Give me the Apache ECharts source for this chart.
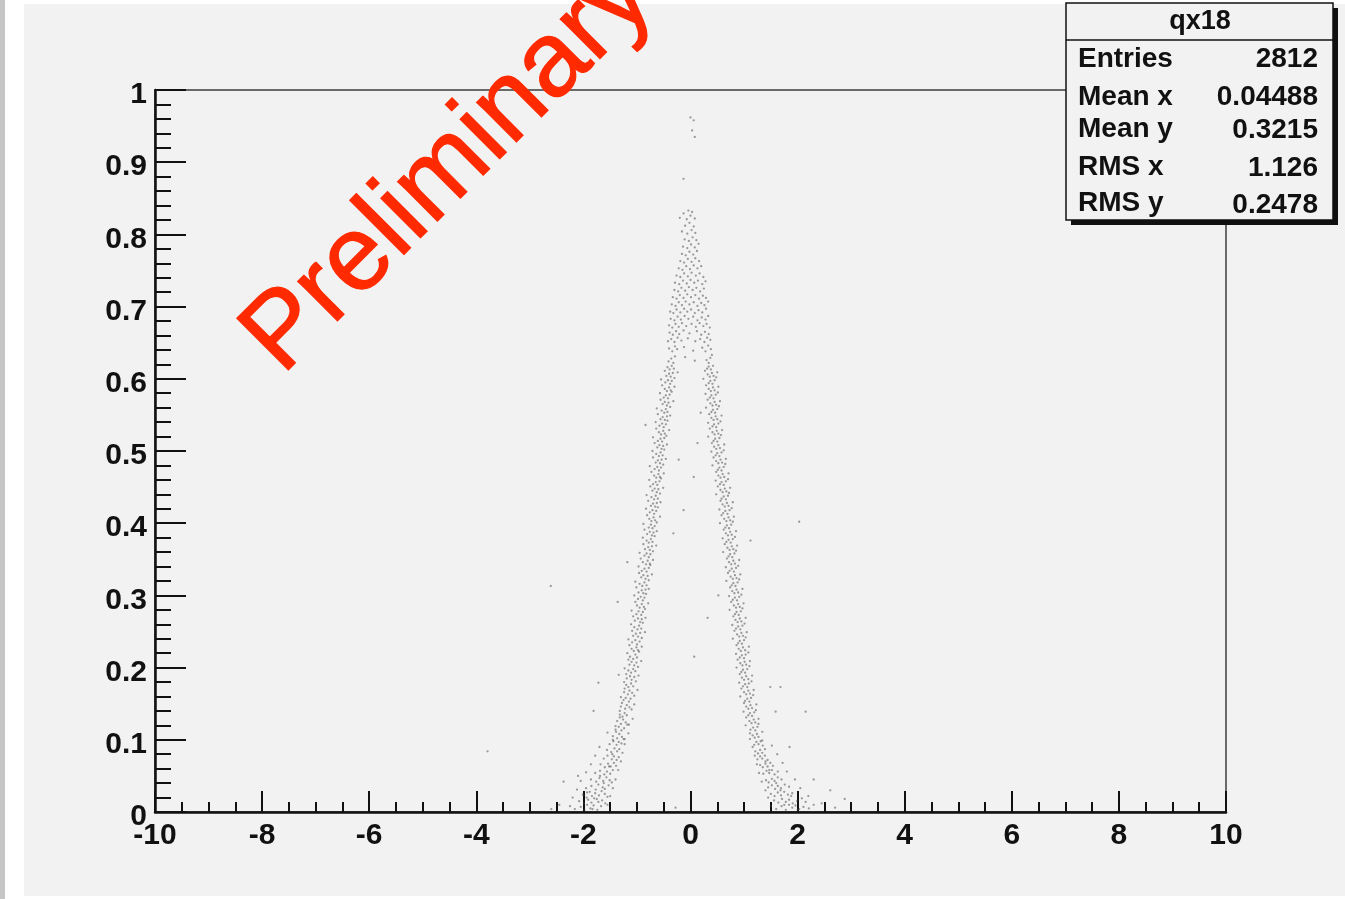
<!DOCTYPE html>
<html><head><meta charset="utf-8">
<script src="https://cdn.jsdelivr.net/npm/echarts@6/dist/echarts.min.js"></script>
<style>html,body{margin:0;padding:0;background:#fff;}#c{width:1345px;height:899px;}</style>
</head><body><div id="c"></div>
<script>
const xTicks = [-10,-8,-6,-4,-2,0,2,4,6,8,10];
const statTitle = 'qx18';
const statLabels = ['Entries','Mean x','Mean y','RMS x','RMS y'];
const statValues = ['2812','0.04488','0.3215','1.126','0.2478'];
const watermark = 'Preliminary';

const leftBranch = [
[-2.16,0.004],[-2.05,0.007],[-1.98,0.003],[-1.93,0.010],[-1.87,0.005],[-1.81,0.009],[-1.74,0.003],[-1.67,0.008],
[-2.08,0.015],[-1.99,0.012],[-1.91,0.017],[-1.85,0.013],[-1.80,0.019],[-1.72,0.014],[-1.65,0.016],[-1.59,0.012],
[-2.01,0.024],[-1.93,0.027],[-1.84,0.022],[-1.78,0.026],[-1.71,0.023],[-1.66,0.029],[-1.60,0.025],[-1.55,0.021],
[-1.95,0.033],[-1.85,0.036],[-1.77,0.031],[-1.72,0.038],[-1.64,0.034],[-1.60,0.032],[-1.53,0.037],
[-1.86,0.045],[-1.76,0.042],[-1.70,0.047],[-1.63,0.043],[-1.57,0.048],[-1.51,0.044],[-1.47,0.041],
[-1.78,0.054],[-1.69,0.057],[-1.61,0.052],[-1.56,0.056],[-1.50,0.053],[-1.45,0.058],
[-1.68,0.066],[-1.60,0.062],[-1.54,0.067],[-1.49,0.063],[-1.43,0.068],[-1.39,0.064],
[-1.62,0.074],[-1.55,0.078],[-1.47,0.073],[-1.43,0.077],[-1.38,0.072],[-1.34,0.076],
[-1.56,0.086],[-1.48,0.083],[-1.42,0.088],[-1.37,0.084],[-1.33,0.087],
[-1.51,0.094],[-1.44,0.098],[-1.38,0.093],[-1.34,0.097],[-1.29,0.095],
[-1.45,0.105],[-1.37,0.102],[-1.33,0.108],[-1.28,0.104],[-1.25,0.101],
[-1.40,0.114],[-1.34,0.118],[-1.29,0.113],[-1.24,0.116],
[-1.37,0.126],[-1.30,0.122],[-1.26,0.128],[-1.21,0.124],[-1.18,0.121],
[-1.32,0.135],[-1.27,0.132],[-1.23,0.137],[-1.19,0.134],
[-1.30,0.146],[-1.22,0.143],[-1.19,0.148],[-1.14,0.145],
[-1.25,0.155],[-1.21,0.158],[-1.15,0.153],[-1.12,0.157],
[-1.24,0.166],[-1.17,0.163],[-1.14,0.168],[-1.09,0.165],
[-1.20,0.176],[-1.16,0.173],[-1.11,0.178],[-1.07,0.174],
[-1.19,0.185],[-1.13,0.188],[-1.10,0.183],[-1.05,0.187],
[-1.16,0.196],[-1.11,0.193],[-1.07,0.198],[-1.03,0.195],
[-1.14,0.204],[-1.10,0.208],[-1.05,0.203],[-1.01,0.207],
[-1.13,0.215],[-1.07,0.212],[-1.03,0.218],[-1.00,0.214],
[-1.10,0.226],[-1.06,0.223],[-1.01,0.228],[-0.98,0.224],
[-1.09,0.235],[-1.03,0.238],[-1.00,0.232],[-0.95,0.236],
[-1.07,0.244],[-1.02,0.247],[-0.98,0.243],[-0.94,0.248],
[-1.05,0.256],[-0.99,0.253],[-0.96,0.258],[-0.92,0.254],
[-1.04,0.265],[-0.98,0.268],[-0.94,0.263],[-0.91,0.267],
[-1.01,0.274],[-0.97,0.278],[-0.92,0.273],[-0.89,0.277],
[-1.00,0.286],[-0.95,0.283],[-0.91,0.288],[-0.87,0.284],
[-0.98,0.295],[-0.93,0.298],[-0.89,0.293],[-0.86,0.297],
[-0.97,0.304],[-0.91,0.307],[-0.88,0.303],[-0.84,0.308],
[-0.95,0.316],[-0.90,0.313],[-0.86,0.318],[-0.82,0.314],
[-0.92,0.325],[-0.88,0.328],[-0.84,0.323],[-0.80,0.327],
[-0.91,0.334],[-0.86,0.337],[-0.82,0.333],[-0.78,0.338],
[-0.89,0.346],[-0.83,0.343],[-0.80,0.348],[-0.76,0.344],
[-0.86,0.355],[-0.82,0.358],[-0.78,0.353],[-0.75,0.357],
[-0.85,0.364],[-0.79,0.367],[-0.76,0.363],[-0.72,0.368],
[-0.82,0.376],[-0.78,0.373],[-0.74,0.378],[-0.71,0.374],
[-0.81,0.385],[-0.76,0.388],[-0.72,0.383],[-0.69,0.387],
[-0.78,0.394],[-0.74,0.398],[-0.71,0.393],[-0.67,0.396],
[-0.77,0.406],[-0.73,0.403],[-0.69,0.408],[-0.66,0.404],
[-0.76,0.415],[-0.71,0.418],[-0.68,0.413],[-0.64,0.417],
[-0.74,0.424],[-0.70,0.427],[-0.66,0.423],[-0.63,0.428],
[-0.73,0.436],[-0.68,0.433],[-0.65,0.438],[-0.61,0.434],
[-0.71,0.445],[-0.67,0.448],[-0.63,0.443],[-0.60,0.447],
[-0.70,0.454],[-0.65,0.457],[-0.62,0.453],[-0.58,0.458],
[-0.68,0.466],[-0.64,0.463],[-0.60,0.468],[-0.57,0.464],
[-0.67,0.475],[-0.62,0.478],[-0.59,0.473],[-0.55,0.477],
[-0.65,0.484],[-0.61,0.487],[-0.57,0.483],[-0.54,0.488],
[-0.64,0.496],[-0.59,0.493],[-0.56,0.498],[-0.52,0.494],
[-0.62,0.505],[-0.58,0.508],[-0.54,0.503],[-0.51,0.507],
[-0.61,0.514],[-0.56,0.517],[-0.53,0.513],[-0.49,0.518],
[-0.59,0.526],[-0.55,0.523],[-0.51,0.528],[-0.48,0.524],
[-0.58,0.535],[-0.53,0.538],[-0.50,0.533],[-0.46,0.537],
[-0.56,0.544],[-0.52,0.547],[-0.48,0.543],[-0.44,0.548],
[-0.54,0.556],[-0.49,0.553],[-0.46,0.558],[-0.43,0.554],
[-0.52,0.565],[-0.48,0.568],[-0.44,0.563],[-0.41,0.567],
[-0.50,0.574],[-0.46,0.577],[-0.42,0.573],[-0.39,0.578],
[-0.48,0.586],[-0.44,0.583],[-0.40,0.588],[-0.37,0.584],
[-0.47,0.595],[-0.42,0.598],[-0.38,0.593],[-0.35,0.597],
[-0.45,0.604],[-0.40,0.607],[-0.37,0.603],[-0.33,0.608],
[-0.43,0.616],[-0.39,0.613],[-0.35,0.618],[-0.31,0.614]
];

const leftOuter = [
[-1.45,0.100],[-1.23,0.101],[-1.39,0.111],[-1.16,0.109],[-1.40,0.119],[-1.15,0.121],[-1.32,0.131],[-1.08,0.129],
[-1.32,0.140],[-1.10,0.142],[-1.28,0.151],[-1.05,0.149],[-1.30,0.159],[-1.05,0.161],[-1.23,0.171],[-0.99,0.169],
[-1.24,0.180],[-1.02,0.181],[-1.20,0.191],[-0.97,0.189],[-1.23,0.199],[-0.98,0.201],[-1.16,0.211],[-0.92,0.209],
[-1.18,0.220],[-0.96,0.222],[-1.14,0.231],[-0.91,0.229],[-1.16,0.239],[-0.91,0.241],[-1.09,0.251],[-0.85,0.249],
[-1.11,0.260],[-0.89,0.262],[-1.07,0.271],[-0.84,0.269],[-1.10,0.279],[-0.85,0.281],[-1.03,0.291],[-0.79,0.289],
[-1.05,0.300],[-0.83,0.302],[-1.01,0.311],[-0.78,0.309],[-1.03,0.319],[-0.78,0.321],[-0.96,0.331],[-0.72,0.329],
[-0.97,0.340],[-0.75,0.342],[-0.93,0.351],[-0.70,0.349],[-0.95,0.359],[-0.70,0.361],[-0.88,0.371],[-0.64,0.369],
[-0.89,0.380],[-0.67,0.382],[-0.86,0.391],[-0.63,0.389],[-0.88,0.399],[-0.63,0.401],[-0.81,0.411],[-0.57,0.409],
[-0.83,0.420],[-0.61,0.422],[-0.79,0.431],[-0.56,0.429],[-0.82,0.439],[-0.57,0.441],[-0.75,0.451],[-0.51,0.449],
[-0.77,0.460],[-0.55,0.462],[-0.73,0.471],[-0.50,0.469],[-0.76,0.479],[-0.51,0.481],[-0.70,0.491],[-0.46,0.489],
[-0.71,0.500],[-0.49,0.502],[-0.67,0.511],[-0.44,0.509],[-0.70,0.519],[-0.45,0.521],[-0.64,0.531],[-0.40,0.529],
[-0.65,0.540],[-0.43,0.542],[-0.61,0.551],[-0.38,0.549],[-0.63,0.559],[-0.38,0.561],[-0.56,0.571],[-0.32,0.569],
[-0.57,0.580],[-0.35,0.582],[-0.53,0.591],[-0.30,0.589],[-0.55,0.599],[-0.30,0.601],[-0.48,0.611],[-0.24,0.609],
[-2.25,0.008],[-2.20,0.020],[-2.12,0.031],[-2.05,0.043],[-1.95,0.055],[-1.86,0.066],[-1.78,0.078],[-1.70,0.090],
[-1.55,0.010],[-1.50,0.022],[-1.45,0.033],[-1.40,0.045],[-1.35,0.058],[-1.30,0.070],[-1.27,0.082],[-1.23,0.094],
[-1.62,0.040],[-1.75,0.018],[-1.88,0.028],[-1.52,0.063],[-1.46,0.080],[-1.69,0.050],[-1.83,0.004],[-1.94,0.020]
];

const rightBranch = [
[1.60,0.004],[1.70,0.008],[1.78,0.003],[1.84,0.010],[1.90,0.006],[1.96,0.009],[2.03,0.004],[2.11,0.007],[2.21,0.005],
[1.56,0.016],[1.64,0.013],[1.71,0.018],[1.78,0.014],[1.84,0.017],[1.91,0.012],[1.99,0.015],[2.08,0.019],
[1.50,0.025],[1.57,0.022],[1.63,0.027],[1.69,0.023],[1.75,0.028],[1.82,0.024],[1.90,0.026],
[1.45,0.034],[1.52,0.037],[1.58,0.032],[1.63,0.036],[1.69,0.033],[1.76,0.038],[1.84,0.035],
[1.41,0.044],[1.46,0.041],[1.52,0.046],[1.57,0.043],[1.63,0.048],[1.70,0.045],
[1.36,0.053],[1.42,0.057],[1.47,0.054],[1.52,0.058],[1.57,0.052],[1.63,0.056],
[1.30,0.065],[1.35,0.062],[1.40,0.067],[1.44,0.063],[1.49,0.068],[1.54,0.064],
[1.25,0.073],[1.30,0.077],[1.34,0.074],[1.39,0.078],[1.44,0.072],
[1.21,0.084],[1.26,0.081],[1.30,0.086],[1.34,0.082],[1.39,0.087],
[1.19,0.093],[1.23,0.097],[1.27,0.094],[1.31,0.098],[1.35,0.092],
[1.16,0.106],[1.20,0.103],[1.24,0.108],[1.27,0.104],
[1.12,0.114],[1.17,0.117],[1.21,0.113],[1.25,0.118],
[1.10,0.126],[1.14,0.123],[1.18,0.128],[1.21,0.124],
[1.08,0.134],[1.11,0.137],[1.15,0.133],[1.19,0.138],
[1.04,0.146],[1.08,0.143],[1.12,0.148],[1.15,0.144],
[1.02,0.154],[1.06,0.157],[1.10,0.153],[1.13,0.158],
[1.00,0.166],[1.04,0.163],[1.08,0.168],[1.11,0.164],
[0.98,0.174],[1.02,0.177],[1.06,0.173],[1.09,0.178],
[0.96,0.186],[1.00,0.183],[1.04,0.188],[1.08,0.184],
[0.95,0.194],[0.98,0.197],[1.02,0.193],[1.06,0.198],
[0.93,0.206],[0.97,0.203],[1.01,0.208],[1.04,0.204],
[0.92,0.214],[0.96,0.217],[1.00,0.213],[1.03,0.218],
[0.90,0.226],[0.94,0.223],[0.98,0.228],[1.02,0.224],
[0.89,0.234],[0.92,0.237],[0.96,0.233],[1.00,0.238],
[0.87,0.246],[0.91,0.243],[0.95,0.248],[0.98,0.244],
[0.85,0.254],[0.89,0.257],[0.93,0.253],[0.97,0.258],
[0.84,0.266],[0.88,0.263],[0.92,0.268],[0.95,0.264],
[0.83,0.274],[0.86,0.277],[0.90,0.273],[0.94,0.278],
[0.81,0.286],[0.85,0.283],[0.89,0.288],[0.92,0.284],
[0.79,0.294],[0.83,0.297],[0.87,0.293],[0.91,0.298],
[0.78,0.306],[0.82,0.303],[0.86,0.308],[0.89,0.304],
[0.77,0.314],[0.80,0.317],[0.84,0.313],[0.88,0.318],
[0.75,0.326],[0.79,0.323],[0.83,0.328],[0.86,0.324],
[0.73,0.334],[0.77,0.337],[0.81,0.333],[0.85,0.338],
[0.72,0.346],[0.76,0.343],[0.80,0.348],[0.83,0.344],
[0.71,0.354],[0.74,0.357],[0.78,0.353],[0.82,0.358],
[0.69,0.366],[0.73,0.363],[0.77,0.368],[0.80,0.364],
[0.67,0.374],[0.71,0.377],[0.75,0.373],[0.79,0.378],
[0.66,0.386],[0.70,0.383],[0.74,0.388],[0.77,0.384],
[0.65,0.394],[0.68,0.397],[0.72,0.393],[0.76,0.398],
[0.63,0.406],[0.67,0.403],[0.71,0.408],[0.74,0.404],
[0.61,0.414],[0.65,0.417],[0.69,0.413],[0.73,0.418],
[0.60,0.426],[0.64,0.423],[0.68,0.428],[0.71,0.424],
[0.58,0.434],[0.62,0.437],[0.66,0.433],[0.70,0.438],
[0.56,0.446],[0.60,0.443],[0.64,0.448],[0.67,0.444],
[0.55,0.454],[0.58,0.457],[0.62,0.453],[0.66,0.458],
[0.52,0.466],[0.56,0.463],[0.60,0.468],[0.63,0.464],
[0.51,0.474],[0.54,0.477],[0.58,0.473],[0.62,0.478],
[0.48,0.486],[0.52,0.483],[0.56,0.488],[0.59,0.484],
[0.47,0.494],[0.50,0.497],[0.54,0.493],[0.58,0.498],
[0.44,0.506],[0.48,0.503],[0.52,0.508],[0.55,0.504],
[0.43,0.514],[0.46,0.517],[0.50,0.513],[0.54,0.518],
[0.41,0.526],[0.45,0.523],[0.49,0.528],[0.52,0.524],
[0.41,0.534],[0.44,0.537],[0.48,0.533],[0.52,0.538],
[0.39,0.546],[0.43,0.543],[0.47,0.548],[0.50,0.544],
[0.39,0.554],[0.42,0.557],[0.46,0.553],[0.50,0.558],
[0.37,0.566],[0.41,0.563],[0.45,0.568],[0.48,0.564],
[0.36,0.574],[0.39,0.577],[0.43,0.573],[0.47,0.578],
[0.34,0.586],[0.38,0.583],[0.42,0.588],[0.45,0.584],
[0.34,0.594],[0.37,0.597],[0.41,0.593],[0.45,0.598],
[0.32,0.606],[0.36,0.603],[0.40,0.608],[0.43,0.604],
[0.31,0.614],[0.34,0.617],[0.38,0.613],[0.42,0.618]
];

const rightOuter = [
[1.11,0.101],[1.34,0.099],[1.11,0.109],[1.34,0.111],[1.03,0.120],[1.27,0.122],[1.04,0.131],[1.27,0.129],
[0.99,0.139],[1.22,0.141],[1.00,0.151],[1.23,0.149],[0.93,0.160],[1.17,0.162],[0.95,0.171],[1.18,0.169],
[0.91,0.179],[1.14,0.181],[0.92,0.191],[1.15,0.189],[0.86,0.200],[1.10,0.202],[0.88,0.211],[1.11,0.209],
[0.85,0.219],[1.08,0.221],[0.86,0.231],[1.09,0.229],[0.79,0.240],[1.03,0.242],[0.82,0.251],[1.05,0.249],
[0.78,0.259],[1.01,0.261],[0.80,0.271],[1.03,0.269],[0.73,0.280],[0.97,0.282],[0.76,0.291],[0.99,0.289],
[0.72,0.299],[0.95,0.301],[0.74,0.311],[0.97,0.309],[0.67,0.320],[0.91,0.322],[0.70,0.331],[0.93,0.329],
[0.66,0.339],[0.89,0.341],[0.68,0.351],[0.91,0.349],[0.61,0.360],[0.85,0.362],[0.64,0.371],[0.87,0.369],
[0.60,0.379],[0.83,0.381],[0.62,0.391],[0.85,0.389],[0.55,0.400],[0.79,0.402],[0.58,0.411],[0.81,0.409],
[0.54,0.419],[0.77,0.421],[0.56,0.431],[0.79,0.429],[0.48,0.440],[0.72,0.442],[0.51,0.451],[0.74,0.449],
[0.47,0.459],[0.70,0.461],[0.48,0.471],[0.71,0.469],[0.41,0.480],[0.65,0.482],[0.43,0.491],[0.66,0.489],
[0.39,0.499],[0.62,0.501],[0.40,0.511],[0.63,0.509],[0.33,0.520],[0.57,0.522],[0.36,0.531],[0.59,0.529],
[0.33,0.539],[0.56,0.541],[0.35,0.551],[0.58,0.549],[0.29,0.560],[0.53,0.562],[0.32,0.571],[0.55,0.569],
[0.28,0.579],[0.51,0.581],[0.29,0.591],[0.52,0.589],[0.24,0.600],[0.48,0.602],[0.27,0.611],[0.50,0.609],
[1.50,0.008],[1.45,0.020],[1.40,0.030],[1.33,0.042],[1.28,0.054],[1.24,0.066],[1.20,0.078],[1.16,0.090],
[2.30,0.010],[2.20,0.022],[2.05,0.033],[1.95,0.045],[1.80,0.056],[1.72,0.068],[1.62,0.080],[1.52,0.092],
[1.75,0.010],[1.88,0.022],[1.60,0.040],[1.68,0.030],[1.40,0.070],[1.47,0.058],[2.00,0.003],[2.15,0.014]
];

const peakPoints = [
[-0.41,0.624],[-0.36,0.628],[-0.32,0.622],[-0.29,0.631],[-0.10,0.630],[0.08,0.625],[0.30,0.626],[0.34,0.622],[0.37,0.629],[0.40,0.633],
[-0.40,0.642],[-0.34,0.638],[-0.29,0.645],[-0.25,0.641],[-0.12,0.644],[0.05,0.639],[0.22,0.643],[0.28,0.638],[0.33,0.646],[0.38,0.641],
[-0.42,0.652],[-0.36,0.655],[-0.30,0.651],[-0.24,0.657],[-0.17,0.653],[-0.05,0.656],[0.09,0.652],[0.18,0.655],[0.26,0.651],[0.31,0.657],[0.37,0.654],
[-0.39,0.664],[-0.33,0.661],[-0.27,0.666],[-0.21,0.662],[-0.13,0.667],[-0.02,0.663],[0.12,0.666],[0.20,0.661],[0.27,0.665],[0.34,0.662],
[-0.40,0.674],[-0.34,0.671],[-0.28,0.676],[-0.22,0.672],[-0.16,0.677],[-0.08,0.673],[0.02,0.676],[0.10,0.672],[0.17,0.677],[0.24,0.673],[0.30,0.676],[0.36,0.671],
[-0.37,0.683],[-0.30,0.681],[-0.24,0.686],[-0.18,0.682],[-0.11,0.687],[-0.04,0.683],[0.05,0.686],[0.13,0.681],[0.21,0.685],[0.28,0.682],[0.33,0.687],
[-0.38,0.693],[-0.32,0.691],[-0.26,0.696],[-0.19,0.692],[-0.12,0.697],[-0.06,0.693],[0.01,0.696],[0.08,0.691],[0.15,0.695],[0.22,0.692],[0.29,0.697],
[-0.35,0.703],[-0.28,0.701],[-0.22,0.706],[-0.16,0.702],[-0.09,0.707],[-0.02,0.703],[0.06,0.706],[0.13,0.701],[0.20,0.705],[0.26,0.702],[0.33,0.707],
[-0.33,0.713],[-0.26,0.711],[-0.20,0.716],[-0.13,0.712],[-0.06,0.717],[0.01,0.713],[0.09,0.716],[0.16,0.711],[0.23,0.715],[0.29,0.712],
[-0.30,0.723],[-0.23,0.721],[-0.17,0.726],[-0.10,0.722],[-0.03,0.727],[0.04,0.723],[0.11,0.726],[0.18,0.721],[0.25,0.725],
[-0.29,0.733],[-0.21,0.731],[-0.14,0.736],[-0.07,0.732],[0.00,0.737],[0.07,0.733],[0.14,0.736],[0.22,0.731],[0.28,0.735],
[-0.26,0.743],[-0.19,0.741],[-0.12,0.746],[-0.05,0.742],[0.02,0.747],[0.10,0.743],[0.17,0.746],[0.24,0.741],
[-0.22,0.753],[-0.15,0.751],[-0.08,0.756],[-0.01,0.752],[0.06,0.757],[0.13,0.753],[0.20,0.756],
[-0.19,0.763],[-0.12,0.761],[-0.05,0.766],[0.02,0.762],[0.09,0.767],[0.16,0.763],
[-0.16,0.773],[-0.09,0.771],[-0.02,0.776],[0.05,0.772],[0.12,0.777],
[-0.14,0.783],[-0.06,0.781],[0.01,0.786],[0.08,0.782],[0.15,0.787],
[-0.11,0.793],[-0.03,0.791],[0.04,0.796],[0.11,0.792],
[-0.16,0.804],[-0.06,0.801],[0.02,0.806],[0.09,0.802],
[-0.10,0.812],[-0.02,0.816],[0.06,0.811],
[-0.20,0.823],[-0.07,0.821],[0.00,0.826],[0.08,0.822],
[-0.04,0.833],[0.03,0.831],[-0.13,0.829]
];

const strayPoints = [
[0.00,0.962],[0.06,0.958],[0.03,0.944],[0.08,0.935],[-0.13,0.877],
[2.03,0.402],[-2.61,0.313],[-3.79,0.084],[2.15,0.139],[1.59,0.139],
[0.32,0.269],[0.07,0.215],[-0.32,0.386],[-0.13,0.418],[-1.72,0.179],
[-1.81,0.140],[-2.37,0.042],[2.61,0.030],[-0.28,0.006],[-1.36,0.291],
[-1.34,0.190],[1.49,0.173],[1.68,0.173],[0.52,0.300],[2.45,0.012],
[2.70,0.006],[2.88,0.018],[-2.45,0.010],[-2.60,0.004],[0.13,0.511],
[-0.22,0.488],[-0.84,0.536],[-1.18,0.346],[1.12,0.376],[0.19,0.553],
[0.06,0.464],[-1.55,0.110],[-2.10,0.050],[2.30,0.045],[1.85,0.090]
];

const chart = echarts.init(document.getElementById('c'));
const FONT = "'Liberation Sans', Arial, Helvetica, sans-serif";
const dotStyle = {color: 'rgba(70,70,70,0.65)'};
function sc(data){ return {type:'scatter', data:data, symbol:'circle', symbolSize:2.3, itemStyle:dotStyle, silent:true, z:3}; }

const statGraphics = [];
const labelY = [59, 97, 129, 167, 203];
const valueY = [59, 97, 130, 168, 205];
statLabels.forEach((t,i)=>statGraphics.push({type:'text', x:1078, y:labelY[i], z:102,
  style:{text:t, font:"bold 28px "+FONT, fill:'#111', textAlign:'left', textVerticalAlign:'middle'}}));
statValues.forEach((t,i)=>statGraphics.push({type:'text', x:1318, y:valueY[i], z:102,
  style:{text:t, font:"bold 28px "+FONT, fill:'#111', textAlign:'right', textVerticalAlign:'middle'}}));

const option = {
  animation:false,
  backgroundColor:'#ffffff',
  graphic:[
    {type:'rect', z:-100, shape:{x:0,y:0,width:5,height:899}, style:{fill:'#c6c6c6'}},
    {type:'rect', z:-100, shape:{x:24,y:4,width:1321,height:892}, style:{fill:'#f2f2f2'}},
    {type:'text', x:449, y:168, rotation:Math.PI/4, z:90,
      style:{text:watermark, font:"106px "+FONT, fill:'#ff2a00', textAlign:'center', textVerticalAlign:'middle', stroke:'#ff2a00', lineWidth:1.2}},
    {type:'rect', z:100, shape:{x:1071,y:8,width:267,height:217}, style:{fill:'#111'}},
    {type:'rect', z:101, shape:{x:1066,y:3,width:267,height:217}, style:{fill:'#f2f2f2', stroke:'#111', lineWidth:1.5}},
    {type:'line', z:102, shape:{x1:1066,y1:40,x2:1333,y2:40}, style:{stroke:'#111', lineWidth:1.5}},
    {type:'text', x:1200, y:22, z:102, style:{text:statTitle, font:"bold 27px "+FONT, fill:'#111', textAlign:'center', textVerticalAlign:'middle'}}
  ].concat(statGraphics),
  grid:{left:155, top:90, width:1071, height:722, show:true, borderColor:'#6a6a6a', borderWidth:2, backgroundColor:'transparent'},
  xAxis:{type:'value', min:xTicks[0], max:xTicks[xTicks.length-1], interval:2,
    axisLine:{show:true, onZero:false, lineStyle:{color:'#111', width:2.5}},
    axisTick:{show:true, inside:true, length:21, lineStyle:{color:'#111', width:2}},
    minorTick:{show:true, splitNumber:4, length:10, lineStyle:{color:'#111', width:2}},
    splitLine:{show:false}, minorSplitLine:{show:false},
    axisLabel:{margin:9, color:'#111', fontFamily:FONT, fontWeight:'bold', fontSize:30}},
  yAxis:{type:'value', min:0, max:1, interval:0.1,
    axisLine:{show:true, onZero:false, lineStyle:{color:'#111', width:2.5}},
    axisTick:{show:true, inside:true, length:31, lineStyle:{color:'#111', width:2}},
    minorTick:{show:true, splitNumber:5, length:16, lineStyle:{color:'#111', width:2}},
    splitLine:{show:false}, minorSplitLine:{show:false},
    axisLabel:{margin:8, color:'#111', fontFamily:FONT, fontWeight:'bold', fontSize:30,
      formatter:function(v){return '{a|' + String(Math.round(v*10)/10) + '}';},
      rich:{a:{padding:[10,0,0,0], color:'#111', fontFamily:FONT, fontWeight:'bold', fontSize:30}}}},
  series:[sc(leftBranch), sc(leftOuter), sc(rightBranch), sc(rightOuter), sc(peakPoints), sc(strayPoints)]
};
chart.setOption(option);
</script></body></html>
